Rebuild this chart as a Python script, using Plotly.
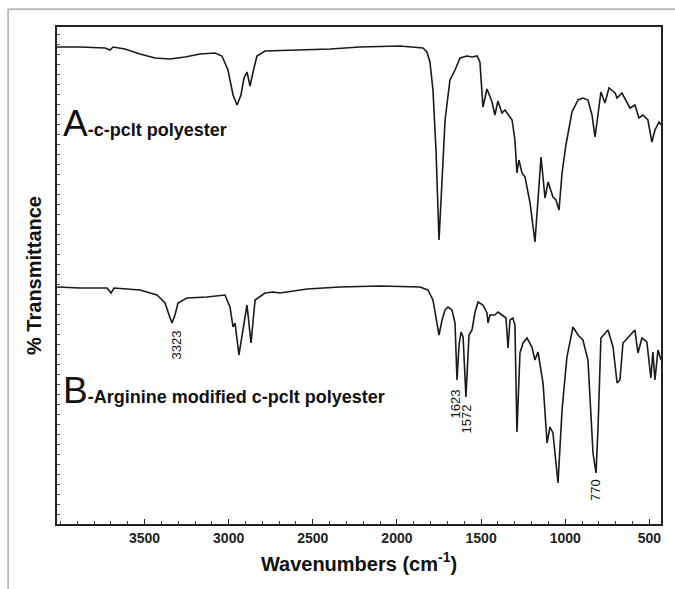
import plotly.graph_objects as go

# ---- Spectrum A : c-pclt polyester (wavenumber cm-1, %T a.u.) ----
wn_a = [4020, 3883, 3735, 3705, 3687, 3616, 3527, 3438, 3349, 3259, 3170, 3081, 3040,
        3004, 2974, 2950, 2927, 2909, 2891, 2873, 2855, 2832, 2784, 2636, 2398, 2220,
        1982, 1845, 1822, 1804, 1786, 1768, 1750, 1732, 1714, 1685, 1655, 1625, 1584,
        1554, 1524, 1507, 1489, 1465, 1447, 1435, 1418, 1400, 1376, 1358, 1316, 1299,
        1287, 1275, 1257, 1239, 1209, 1180, 1162, 1144, 1120, 1102, 1073, 1055, 1037,
        1019, 996, 960, 924, 895, 865, 841, 823, 805, 788, 764, 740, 704, 692, 663,
        615, 586, 562, 538, 509, 485, 467, 443, 431]
t_a = [95.4, 95.4, 95.2, 94.8, 95.4, 95.0, 94.0, 93.2, 93.0, 93.4, 94.0, 94.2, 93.6,
       90.8, 85.8, 83.8, 85.8, 89.2, 90.4, 87.6, 90.4, 93.6, 94.6, 94.8, 95.0, 95.4,
       95.6, 95.2, 94.4, 92.4, 86.8, 74.8, 56.8, 68.8, 80.8, 88.8, 90.8, 93.2, 93.6,
       93.4, 93.6, 92.4, 83.4, 87.0, 85.6, 84.4, 81.8, 84.6, 82.2, 82.8, 80.8, 76.8,
       70.2, 72.8, 70.2, 69.4, 64.2, 56.4, 64.8, 73.4, 65.2, 68.4, 65.4, 64.8, 62.8,
       70.2, 75.8, 82.4, 84.8, 85.2, 84.8, 81.8, 77.4, 81.8, 86.4, 84.2, 87.2, 86.2,
       85.2, 86.2, 83.2, 83.8, 81.2, 81.8, 80.8, 76.4, 78.8, 80.4, 79.8]

# ---- Spectrum B : Arginine modified c-pclt polyester ----
wn_b = [4020, 3883, 3723, 3699, 3681, 3527, 3426, 3378, 3354, 3337, 3319, 3301, 3248,
        3129, 3022, 2992, 2974, 2962, 2939, 2915, 2891, 2867, 2843, 2784, 2737, 2695,
        2534, 2338, 2101, 1863, 1816, 1786, 1768, 1750, 1732, 1714, 1697, 1673, 1655,
        1643, 1631, 1619, 1607, 1590, 1572, 1554, 1536, 1518, 1489, 1465, 1459, 1447,
        1418, 1400, 1376, 1352, 1340, 1328, 1311, 1299, 1287, 1269, 1251, 1227, 1198,
        1180, 1162, 1132, 1108, 1091, 1073, 1043, 1019, 990, 954, 924, 895, 865, 835,
        817, 805, 788, 746, 716, 692, 675, 657, 586, 568, 544, 515, 491, 479, 467,
        449, 431]
t_b = [47.4, 47.2, 47.2, 46.2, 47.2, 46.8, 45.8, 44.2, 41.8, 40.2, 41.8, 44.2, 45.2,
       45.4, 45.8, 43.4, 39.4, 40.2, 33.8, 38.8, 43.8, 36.2, 44.8, 46.2, 46.4, 46.2,
       47.0, 47.4, 47.6, 47.4, 46.8, 44.8, 41.2, 37.8, 40.8, 42.8, 43.4, 42.8, 40.2,
       28.8, 35.8, 38.4, 37.4, 25.4, 37.8, 38.8, 42.4, 44.4, 43.8, 42.2, 40.2, 41.8,
       41.8, 42.4, 41.8, 41.2, 35.2, 40.8, 41.2, 39.8, 18.4, 34.2, 36.2, 37.2, 35.4,
       32.8, 34.4, 28.2, 16.2, 19.4, 18.2, 8.2, 22.8, 33.4, 39.4, 37.8, 36.8, 32.8,
       14.2, 10.2, 19.4, 37.2, 38.8, 35.4, 28.2, 28.8, 36.2, 38.8, 34.2, 37.2, 36.4,
       29.2, 34.4, 28.8, 34.8, 32.8]

# ---- peak labels ----
peak_text = ["3323", "1623", "1572", "770"]
peak_wn = [3307, 1655, 1584, 823]
peak_top = [39.2, 27.2, 24.4, 9.4]

x_ticks = [3500, 3000, 2500, 2000, 1500, 1000, 500]

FONT = "Liberation Sans, Arial"

fig = go.Figure()
for wn, t in ((wn_a, t_a), (wn_b, t_b)):
    fig.add_trace(go.Scatter(x=wn, y=t, mode="lines",
                             line=dict(color="#1a1a1a", width=1.6),
                             showlegend=False, hoverinfo="skip"))

for txt, x, y in zip(peak_text, peak_wn, peak_top):
    fig.add_annotation(x=x, y=y, text=txt, textangle=-90, showarrow=False,
                       xanchor="center", yanchor="top",
                       font=dict(family=FONT, size=13, color="#111"))

fig.add_annotation(x=3995, y=75.6, xanchor="left", yanchor="bottom", showarrow=False,
                   text="<span style='font-size:37px'>A</span><b>-c-pclt polyester</b>",
                   font=dict(family=FONT, size=18, color="#111"))
fig.add_annotation(x=3995, y=22.2, xanchor="left", yanchor="bottom", showarrow=False,
                   text="<span style='font-size:37px'>B</span><b>-Arginine modified c-pclt polyester</b>",
                   font=dict(family=FONT, size=18, color="#111"))

# outer grey frame (cropped figure border)
fig.add_shape(type="line", xref="paper", yref="paper", x0=-0.081, y0=1.036, x1=1.1, y1=1.036,
              line=dict(color="#9a9a9a", width=1.2))
fig.add_shape(type="line", xref="paper", yref="paper", x0=-0.081, y0=1.036, x1=-0.081, y1=-0.3,
              line=dict(color="#9a9a9a", width=1.2))

fig.update_xaxes(range=[4020, 431], tickvals=x_ticks, ticks="inside", ticklen=5,
                 tickcolor="#222", tickwidth=1.2,
                 minor=dict(dtick=100, ticks="inside", ticklen=3, tickcolor="#444"),
                 showline=True, linecolor="#222", linewidth=2, mirror=True,
                 showgrid=False, zeroline=False,
                 tickfont=dict(family=FONT, size=14, color="#222", weight="bold"),
                 title=dict(text="<b>Wavenumbers (cm<sup>-1</sup>)</b>", standoff=12,
                            font=dict(family=FONT, size=20, color="#111")))
fig.update_yaxes(range=[0, 99.4], showticklabels=False, ticks="inside", ticklen=3,
                 dtick=2, tickcolor="#555", tickwidth=1,
                 showline=True, linecolor="#222", linewidth=2, mirror=True,
                 showgrid=False, zeroline=False,
                 title=dict(text="<b>% Transmittance</b>", standoff=8,
                            font=dict(family=FONT, size=20, color="#111")))

fig.update_layout(width=675, height=589, margin=dict(l=57, r=14, t=27, b=65),
                  paper_bgcolor="white", plot_bgcolor="white")
fig.write_html("out.html")
